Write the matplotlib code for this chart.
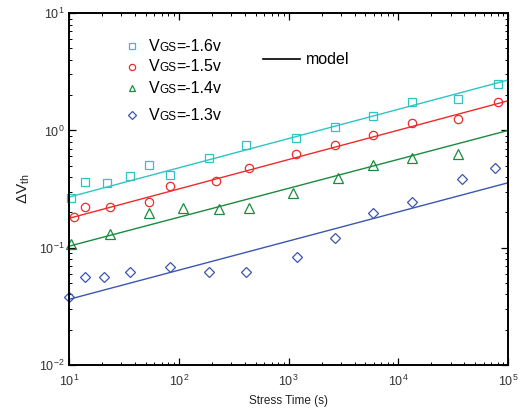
import matplotlib

matplotlib.use("Agg")
import matplotlib.pyplot as plt

plt.rcParams["font.family"] = ["Liberation Sans", "DejaVu Sans"]
plt.rcParams["mathtext.fontset"] = "custom"
plt.rcParams["mathtext.rm"] = "Liberation Sans"
plt.rcParams["mathtext.it"] = "Liberation Sans:italic"
plt.rcParams["mathtext.bf"] = "Liberation Sans:bold"

# measured threshold-voltage shift vs stress time, one series per gate bias
t_16 = [10.4, 14, 22, 36, 53, 83, 190, 407, 1165, 2655, 5930, 13400, 35200, 80500]
v_16 = [0.267, 0.365, 0.358, 0.41, 0.51, 0.419, 0.585, 0.745, 0.86, 1.07, 1.33, 1.75, 1.87, 2.49]

t_15 = [11.1, 14, 23.7, 53, 83, 218, 437, 1170, 2655, 5930, 13400, 35200, 80500]
v_15 = [0.181, 0.221, 0.221, 0.244, 0.336, 0.368, 0.474, 0.625, 0.745, 0.908, 1.15, 1.25, 1.75]

t_14 = [10.4, 23.7, 53, 110, 234, 440, 1106, 2845, 5930, 13400, 35200]
v_14 = [0.107, 0.131, 0.199, 0.219, 0.214, 0.219, 0.290, 0.390, 0.509, 0.578, 0.625]

t_13 = [10, 14.1, 20.8, 36, 83, 190, 410, 1190, 2655, 5930, 13400, 37800, 76200]
v_13 = [0.0378, 0.0565, 0.0565, 0.0617, 0.0684, 0.0624, 0.0624, 0.0837, 0.1216, 0.199, 0.244, 0.383, 0.474]

# power-law model, endpoints at t = 10 s and t = 1e5 s
model_t = [10, 1e5]
model_16 = [0.27, 2.69]
model_15 = [0.178, 1.79]
model_14 = [0.103, 1.0]
model_13 = [0.0363, 0.358]

labels = ["=-1.6v", "=-1.5v", "=-1.4v", "=-1.3v"]

CYAN = "#2ec4c4"
RED = "#ee2b2b"
GREEN = "#1b8a3e"
BLUE = "#3b56b0"

series = [
    (t_16, v_16, model_16, CYAN, "s", 5.5),
    (t_15, v_15, model_15, RED, "o", 6),
    (t_14, v_14, model_14, GREEN, "^", 6.5),
    (t_13, v_13, model_13, BLUE, "D", 5.5),
]

fig = plt.figure(figsize=(5.31, 4.11), dpi=100)
ax = fig.add_axes([0.130, 0.112, 0.827, 0.856])

for t, v, m, c, mk, ms in series:
    ax.plot(model_t, m, color=c, lw=1.0)
    ax.plot(t, v, ls="none", marker=mk, ms=ms, mfc="none", mec=c, mew=0.9,
            clip_on=False)

ax.set_xscale("log")
ax.set_yscale("log")
ax.set_xlim(10, 1e5)
ax.set_ylim(1e-2, 10)

for sp in ax.spines.values():
    sp.set_linewidth(1.4)
ax.tick_params(which="both", direction="in", top=True, right=True,
               labelsize=9, labelcolor="#333333")
ax.tick_params(axis="x", which="major", pad=6)
ax.tick_params(which="major", length=5, width=0.9)
ax.tick_params(which="minor", length=2.5, width=0.7)

ax.set_xlabel("Stress Time (s)", fontsize=8.5, labelpad=5, color="#222222")
ax.set_ylabel(r"$\Delta$V$_{\mathrm{th}}$", fontsize=11, labelpad=5,
              color="#222222")

# hand-placed legend, matching the original layout
rows_y = [0.906, 0.847, 0.787, 0.710]
for (t, v, m, c, mk, ms), lab, yy in zip(series, labels, rows_y):
    ax.plot([0.1435], [yy], transform=ax.transAxes, ls="none", marker=mk,
            ms=ms * 0.75, mfc="none", mec=c, mew=0.9)
    t1 = ax.text(0.182, yy, "V", transform=ax.transAxes, fontsize=11.5,
                 va="center", ha="left")
    t2 = ax.annotate("GS", xy=(1, 0), xycoords=t1, fontsize=8.5,
                     va="bottom", ha="left")
    ax.annotate(lab, xy=(1, 0), xycoords=t2, fontsize=11.5,
                va="bottom", ha="left")

ax.plot([0.442, 0.526], [0.869, 0.869], transform=ax.transAxes, color="black",
        lw=1.2)
ax.text(0.540, 0.869, "model", transform=ax.transAxes, fontsize=11.5,
        va="center", ha="left")

fig.savefig("out.png", dpi=100)
